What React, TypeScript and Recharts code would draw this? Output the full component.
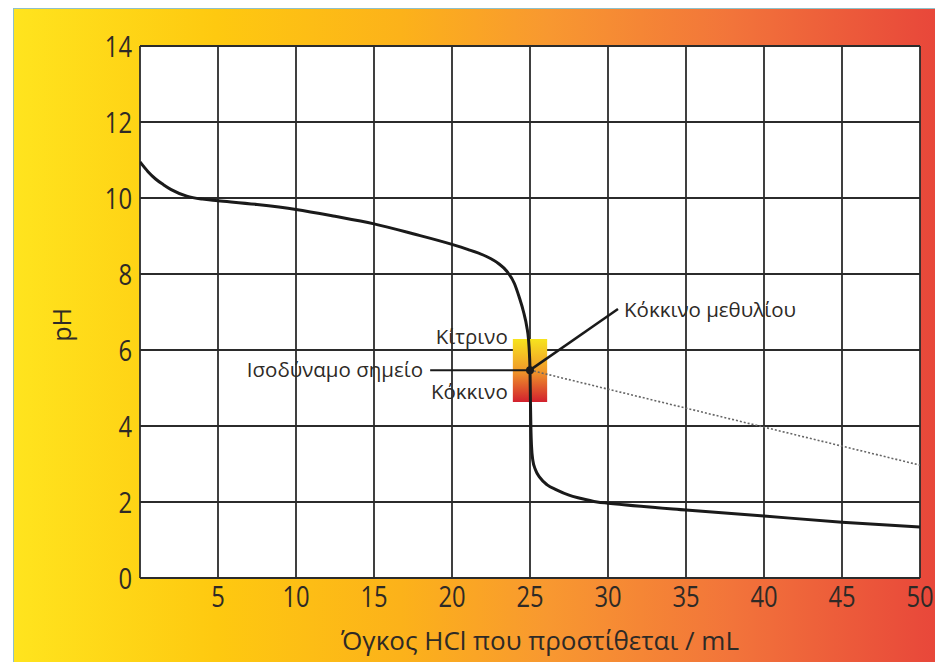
import React from 'react';
import {
  ComposedChart,
  Line,
  XAxis,
  YAxis,
  CartesianGrid,
  ReferenceArea,
  ReferenceDot,
  ReferenceLine,
} from 'recharts';

// titration curve: volume of HCl (mL) -> pH
const VOLUMES = [
  0, 0.5, 1, 1.5, 2, 3, 4, 5, 7.5, 10, 12.5, 15, 17.5, 20, 21, 22, 22.5, 23, 23.5, 24, 24.3,
  24.6, 24.8, 24.9, 24.97, 25, 25.03, 25.06, 25.1, 25.18, 25.35, 25.64, 26.1, 26.7, 27.5, 28.2,
  29.3, 30, 35, 40, 45, 50,
];
const PH_VALUES = [
  10.95, 10.7, 10.5, 10.35, 10.22, 10.05, 9.97, 9.93, 9.83, 9.7, 9.52, 9.32, 9.06, 8.78, 8.65,
  8.5, 8.4, 8.27, 8.08, 7.75, 7.4, 6.98, 6.6, 6.3, 5.85, 5.47, 4.6, 3.9, 3.45, 3.1, 2.85, 2.64,
  2.45, 2.32, 2.18, 2.1, 2.0, 1.97, 1.79, 1.63, 1.47, 1.34,
];

// dotted continuation after the equivalence point
const DOTTED_VOLUMES = [25, 50];
const DOTTED_PH = [5.47, 2.97];

const X_TICKS = [0, 5, 10, 15, 20, 25, 30, 35, 40, 45, 50];
const Y_TICKS = [0, 2, 4, 6, 8, 10, 12, 14];

// methyl red colour-change range
const INDICATOR_X = [23.9, 26.1];
const INDICATOR_PH = [4.63, 6.29];
const EQUIV = { v: 25, ph: 5.47 };

const curve = VOLUMES.map((v, i) => ({ v, ph: PH_VALUES[i] }));
const dotted = DOTTED_VOLUMES.map((v, i) => ({ v, ph: DOTTED_PH[i] }));

const FONT = '"Open Sans", "Noto Sans", sans-serif';
const INK = '#2e2a26';

const XTick = (props: any) => {
  const { x, y, payload } = props;
  if (payload.value === 0) return null;
  return (
    <g transform={`translate(${x},${y}) scale(0.82,1)`}>
      <text textAnchor="middle" dy="0.71em" fontSize={29} fontFamily={FONT} fill={INK}>
        {payload.value}
      </text>
    </g>
  );
};

const YTick = (props: any) => {
  const { x, y, payload } = props;
  return (
    <g transform={`translate(${x},${y + 1}) scale(0.82,1)`}>
      <text textAnchor="end" dy="0.36em" fontSize={29} fontFamily={FONT} fill={INK}>
        {payload.value}
      </text>
    </g>
  );
};

const noteStyle = { fontSize: 20.5, fontFamily: FONT, fill: INK };

export default function App() {
  return (
    <div style={{ position: 'fixed', left: 0, top: 0, width: 935, height: 662, background: '#fff' }}>
      <div
        style={{
          position: 'absolute',
          left: 13,
          top: 8,
          right: 0,
          bottom: 0,
          borderLeft: '1px solid #8fc0c8',
          borderTop: '1px solid #8fc0c8',
          background:
            'linear-gradient(to right, #ffe41e 0%, #fec910 22%, #fcb21a 42%, #f89830 58%, #f2743a 78%, #e8473a 100%)',
        }}
      />
      <div style={{ position: 'absolute', left: 0, top: 0 }}>
        <ComposedChart width={935} height={662} margin={{ top: 46, right: 15, bottom: 0, left: 0 }}>
          <defs>
            <linearGradient id="methylRed" x1="0" y1="0" x2="0" y2="1">
              <stop offset="0%" stopColor="#f7e41e" />
              <stop offset="50%" stopColor="#f09a2a" />
              <stop offset="100%" stopColor="#d2202e" />
            </linearGradient>
          </defs>
          <CartesianGrid fill="#ffffff" stroke="#2b2b2b" strokeWidth={1.8} />
          <XAxis
            dataKey="v"
            type="number"
            domain={[0, 50]}
            ticks={X_TICKS}
            interval={0}
            height={84}
            axisLine={false}
            tickLine={false}
            tick={<XTick />}
            allowDataOverflow
          />
          <YAxis
            type="number"
            domain={[0, 14]}
            ticks={Y_TICKS}
            interval={0}
            width={140}
            axisLine={false}
            tickLine={false}
            tick={<YTick />}
          />
          <ReferenceArea
            x1={INDICATOR_X[0]}
            x2={INDICATOR_X[1]}
            y1={INDICATOR_PH[0]}
            y2={INDICATOR_PH[1]}
            fill="url(#methylRed)"
            fillOpacity={1}
            stroke="none"
          />
          <ReferenceLine
            segment={[{ x: 18.6, y: EQUIV.ph }, { x: EQUIV.v, y: EQUIV.ph }]}
            stroke="#1a1a1a"
            strokeWidth={2}
          />
          <ReferenceLine
            segment={[{ x: EQUIV.v, y: EQUIV.ph }, { x: 30.64, y: 7.08 }]}
            stroke="#1a1a1a"
            strokeWidth={2.5}
          />
          <Line
            data={dotted}
            dataKey="ph"
            type="linear"
            stroke="#666"
            strokeWidth={1.6}
            strokeDasharray="2 2"
            dot={false}
            isAnimationActive={false}
          />
          <Line
            data={curve}
            dataKey="ph"
            type="monotoneX"
            stroke="#1a1a1a"
            strokeWidth={3}
            dot={false}
            isAnimationActive={false}
          />
          <ReferenceDot x={EQUIV.v} y={EQUIV.ph} r={4} fill="#1a1a1a" stroke="none" />
          <ReferenceDot
            x={18.4}
            y={EQUIV.ph}
            r={0}
            stroke="none"
            label={{ value: 'Ισοδύναμο σημείο', position: 'left', offset: 4, ...noteStyle }}
          />
          <ReferenceDot
            x={23.7}
            y={6.34}
            r={0}
            stroke="none"
            label={{ value: 'Κίτρινο', position: 'left', offset: 2, ...noteStyle }}
          />
          <ReferenceDot
            x={23.7}
            y={4.89}
            r={0}
            stroke="none"
            label={{ value: 'Κόκκινο', position: 'left', offset: 2, ...noteStyle }}
          />
          <ReferenceDot
            x={30.9}
            y={7.05}
            r={0}
            stroke="none"
            label={{ value: 'Κόκκινο μεθυλίου', position: 'right', offset: 2, ...noteStyle }}
          />
        </ComposedChart>
      </div>
      <svg style={{ position: 'absolute', left: 0, top: 0 }} width={935} height={662} pointerEvents="none">
        <text
          transform="translate(71,325) rotate(-90)"
          textAnchor="middle"
          fontSize={25}
          fontFamily={FONT}
          fill={INK}
        >
          pH
        </text>
        <text x={540} y={650} textAnchor="middle" fontSize={26} fontFamily={FONT} fill={INK}>
          Όγκος HCl που προστίθεται / mL
        </text>
      </svg>
    </div>
  );
}
